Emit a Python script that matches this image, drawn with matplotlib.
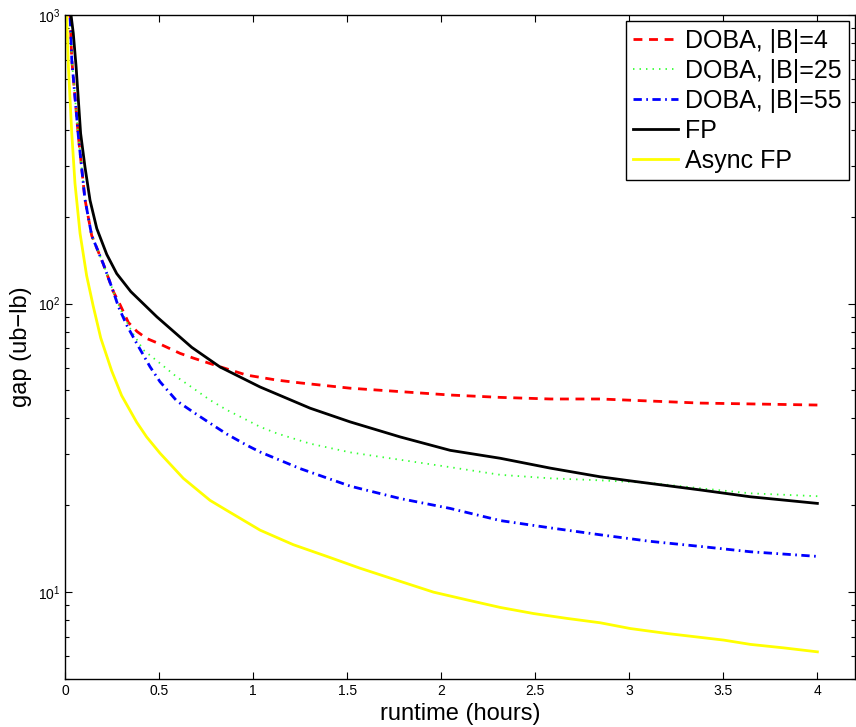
import numpy as np
import matplotlib
matplotlib.use('Agg')
import matplotlib.pyplot as plt

plt.rcParams['font.family'] = ['Liberation Sans', 'DejaVu Sans']
plt.rcParams['mathtext.default'] = 'regular'

# 数据
fp_x = [0.025, 0.032, 0.044, 0.059, 0.071, 0.083, 0.106, 0.133, 0.169, 0.222, 0.275,
        0.35, 0.488, 0.674, 0.824, 1.037, 1.303, 1.516, 1.782, 2.048, 2.314, 2.58,
        2.846, 3.005, 3.378, 3.644, 4.0]
fp_y = [1250, 1000, 865, 662, 508, 389, 298, 228, 182, 148, 127,
        110, 90, 70.5, 60.3, 51.4, 43.4, 38.9, 34.5, 31.0, 29.1, 26.9,
        25.1, 24.3, 22.6, 21.4, 20.3]

b4_x = [0.02, 0.027, 0.036, 0.071, 0.106, 0.142, 0.204, 0.257, 0.293, 0.337, 0.383,
        0.434, 0.505, 0.612, 0.683, 0.824, 0.966, 1.126, 1.25, 1.516, 2.048, 2.314,
        2.58, 2.846, 3.378, 4.0]
b4_y = [1300, 1000, 700, 380, 230, 172, 137, 110, 99, 86, 80,
        75.7, 72.4, 67.2, 64.7, 60.4, 56.5, 54.3, 53.1, 50.9, 48.2, 47.3,
        46.7, 46.7, 45.2, 44.5]

b25_x = [0.02, 0.027, 0.036, 0.071, 0.106, 0.142, 0.204, 0.257, 0.293, 0.355, 0.417,
         0.505, 0.594, 0.683, 0.771, 0.86, 0.966, 1.037, 1.126, 1.303, 1.516, 2.048,
         2.314, 2.58, 2.846, 3.11, 3.378, 3.644, 4.0]
b25_y = [1300, 1000, 700, 380, 230, 172, 137, 110, 96, 80, 69,
         62.1, 55.7, 50.8, 46.3, 42.8, 39.5, 37.4, 35.5, 32.7, 30.5, 27.1,
         25.5, 24.8, 24.4, 23.9, 22.9, 22.0, 21.5]

b55_x = [0.02, 0.027, 0.036, 0.071, 0.106, 0.142, 0.204, 0.257, 0.284, 0.328, 0.381,
         0.452, 0.505, 0.594, 0.683, 0.771, 0.86, 0.966, 1.037, 1.25, 1.516, 1.782,
         2.048, 2.314, 2.58, 2.846, 3.11, 3.378, 3.644, 4.0]
b55_y = [1300, 1000, 700, 380, 230, 172, 137, 110, 97.5, 84.2, 72.8,
         60.4, 53.6, 46.0, 42.0, 38.5, 35.3, 32.3, 30.6, 26.8, 23.3, 21.1,
         19.5, 17.7, 16.7, 15.8, 15.0, 14.4, 13.8, 13.3]

afp_x = [0.004, 0.009, 0.018, 0.036, 0.053, 0.08, 0.115, 0.15, 0.19, 0.248, 0.301,
         0.381, 0.434, 0.505, 0.629, 0.771, 0.86, 1.037, 1.214, 1.392, 1.569, 1.782,
         1.959, 2.137, 2.314, 2.491, 2.668, 2.846, 3.005, 3.2, 3.378, 3.502, 3.644,
         3.821, 4.0]
afp_y = [1300, 1000, 662, 389, 261, 175, 125, 98, 76, 58.5, 48,
         38.8, 34.5, 30.3, 24.8, 20.8, 19.2, 16.4, 14.6, 13.3, 12.1, 10.9,
         10.0, 9.4, 8.85, 8.43, 8.11, 7.83, 7.48, 7.19, 6.97, 6.82, 6.59,
         6.41, 6.21]

labels = ['DOBA, |B|=4', 'DOBA, |B|=25', 'DOBA, |B|=55', 'FP', 'Async FP']
xticks = [0, 0.5, 1, 1.5, 2, 2.5, 3, 3.5, 4]
xtick_labels = ['0', '0.5', '1', '1.5', '2', '2.5', '3', '3.5', '4']

fig = plt.figure(figsize=(8.56, 7.27), dpi=100)
ax = fig.add_axes([65 / 856, 1 - 679 / 727, 790 / 856, 664 / 727])

ax.plot(b4_x, b4_y, color='red', lw=2, dashes=(3.2, 2.4), label=labels[0])
ax.plot(b25_x, b25_y, color=(0.2, 1, 0.2), lw=1.3, dashes=(0.8, 2.8), label=labels[1])
ax.plot(b55_x, b55_y, color='blue', lw=2, dashes=(3.0, 1.6, 0.6, 1.6), label=labels[2])
ax.plot(fp_x, fp_y, color='black', lw=2, label=labels[3])
ax.plot(afp_x, afp_y, color=(1, 1, 0), lw=2, label=labels[4])

ax.set_yscale('log')
ax.set_ylim(5, 1000)
ax.set_xlim(0, 4.2)
ax.set_xticks(xticks)
ax.set_xticklabels(xtick_labels)
ax.tick_params(which='both', direction='in', top=True, right=True, labelsize=10)
ax.tick_params(which='major', length=5, width=0.8)
ax.tick_params(which='minor', length=3, width=0.8)
for s in ax.spines.values():
    s.set_linewidth(1.0)

ax.set_xlabel('runtime (hours)', fontsize=17, labelpad=4)
ax.set_ylabel('gap (ub\u2212lb)', fontsize=17, labelpad=4)

leg = ax.legend(loc='upper right', fontsize=18, fancybox=False, framealpha=1,
                edgecolor='black', handlelength=1.8, handletextpad=0.25,
                labelspacing=0.24, borderpad=0.3, borderaxespad=0.25)
leg.get_frame().set_linewidth(1.0)

plt.savefig('out.png', dpi=100)
